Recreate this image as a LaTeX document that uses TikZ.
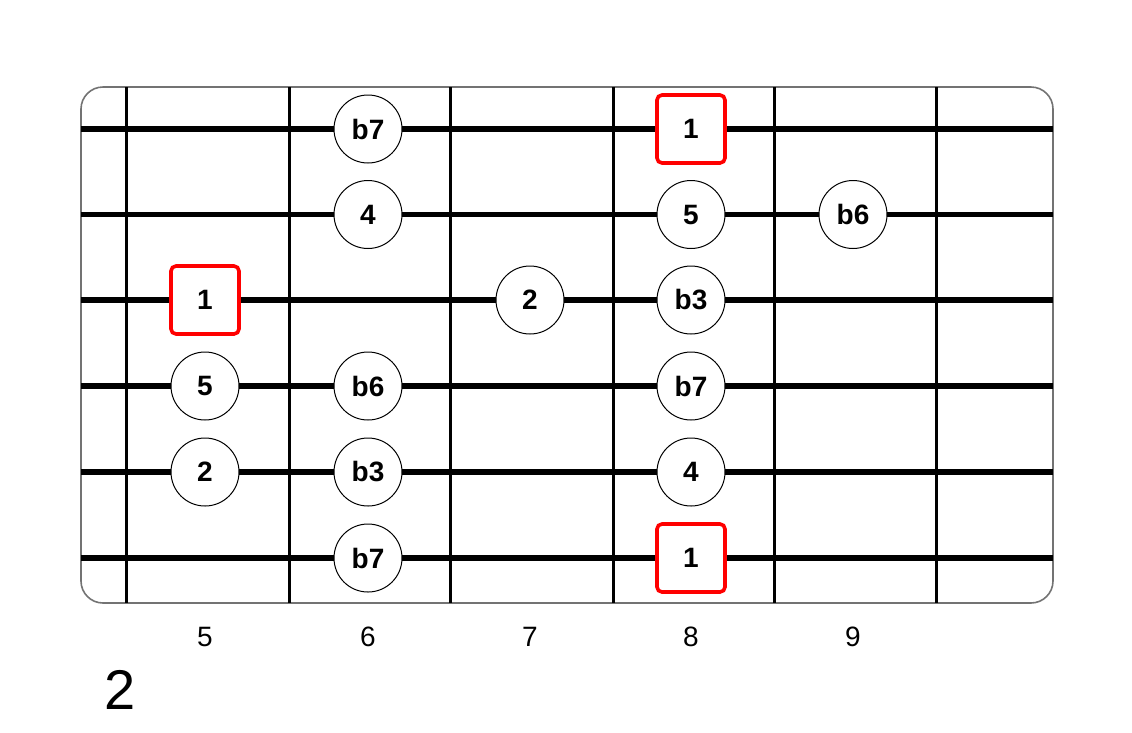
\documentclass[tikz,border=0pt]{standalone}
\usepackage{fontspec}
\setmainfont{Liberation Sans}
\begin{document}
\begin{tikzpicture}[x=1pt,y=-1pt,
  framebox/.style={draw=black!55,line width=1.6pt,rounded corners=22pt},
  fretline/.style={draw=black,line width=3pt},
  stringline/.style={draw=black,line width=5.5pt},
  note/.style={circle,draw=black,line width=1pt,fill=white,minimum size=68pt,inner sep=0pt,font=\fontsize{28}{32}\selectfont\bfseries},
  root/.style={rectangle,rounded corners=5pt,draw=red,line width=3.6pt,fill=white,minimum size=68pt,inner sep=0pt,font=\fontsize{28}{32}\selectfont\bfseries},
  fretnum/.style={font=\fontsize{28}{32}\selectfont},
  bignum/.style={font=\fontsize{56}{62}\selectfont}]
\useasboundingbox (0,0) rectangle (1132,732);
% frame
\draw[framebox] (81,87) rectangle (1053,603);
% strings
\foreach \i/\y in {1/129,2/214.5,3/300,4/386,5/472,6/558}{
  \coordinate (sL\i) at (81,\y);
  \coordinate (sR\i) at (1053,\y);
  \draw[stringline] (sL\i) -- (sR\i);
}
% frets
\foreach \i/\x in {1/126,2/289,3/450,4/613,5/774,6/936}{
  \coordinate (fT\i) at (\x,87);
  \coordinate (fB\i) at (\x,603);
  \draw[fretline] (fT\i) -- (fB\i);
}
% string 1
\node[note] (n1a) at (368,129) {b7};
\node[root] (n1b) at (691,129) {1};
% string 2
\node[note] (n2a) at (368,214.5) {4};
\node[note] (n2b) at (691,214.5) {5};
\node[note] (n2c) at (853,214.5) {b6};
% string 3
\node[root] (n3a) at (205,300) {1};
\node[note] (n3b) at (530,300) {2};
\node[note] (n3c) at (691,300) {b3};
% string 4
\node[note] (n4a) at (205,386) {5};
\node[note] (n4b) at (368,386) {b6};
\node[note] (n4c) at (691,386) {b7};
% string 5
\node[note] (n5a) at (205,472) {2};
\node[note] (n5b) at (368,472) {b3};
\node[note] (n5c) at (691,472) {4};
% string 6
\node[note] (n6a) at (368,558) {b7};
\node[root] (n6b) at (691,558) {1};
% fret numbers
\node[fretnum] (l5) at (205,637) {5};
\node[fretnum] (l6) at (368,637) {6};
\node[fretnum] (l7) at (530,637) {7};
\node[fretnum] (l8) at (691,637) {8};
\node[fretnum] (l9) at (853,637) {9};
% diagram number
\node[bignum] (title) at (120,690) {2};
\end{tikzpicture}
\end{document}
